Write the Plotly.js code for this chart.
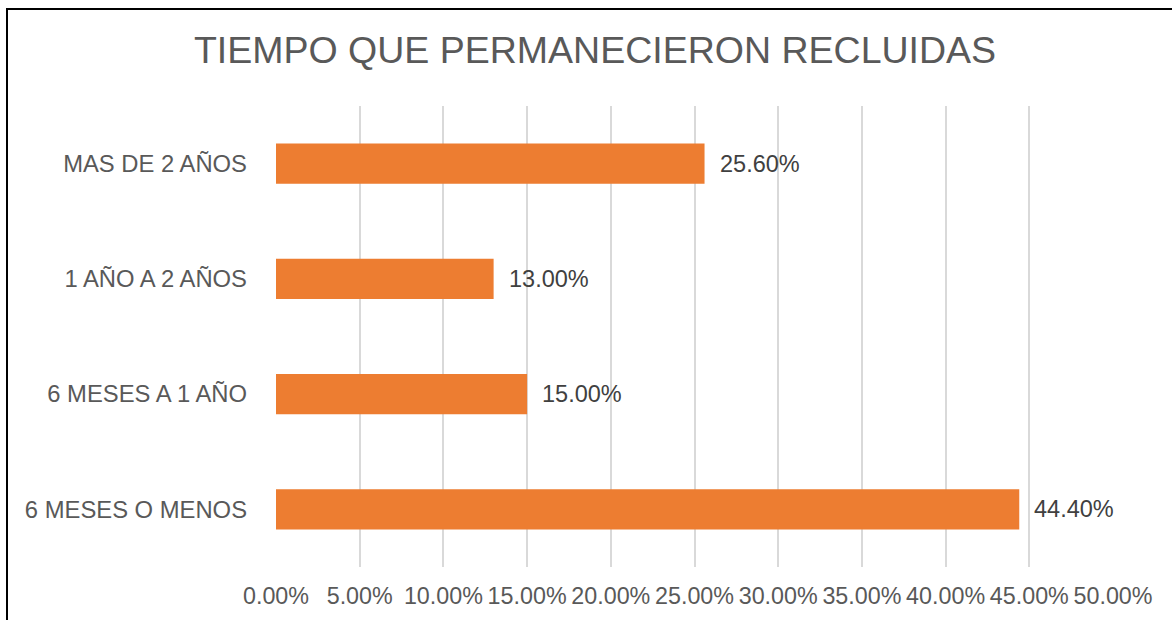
<!DOCTYPE html>
<html>
<head>
<meta charset="utf-8">
<script src="https://cdn.plot.ly/plotly-3.0.1.min.js"></script>
<style>
  html, body { margin: 0; padding: 0; background: #fff; overflow: hidden; }
  #chart { width: 1172px; height: 620px; position: absolute; left: 0; top: 0; }
  #frame { position: absolute; left: 6px; top: 8px; width: 1200px; height: 700px;
           border: 2px solid #000; box-sizing: border-box; pointer-events: none; }
</style>
</head>
<body>
<div id="chart"></div>
<div id="frame"></div>
<script>
const categories = ["6 MESES O MENOS", "6 MESES A 1 AÑO", "1 AÑO A 2 AÑOS", "MAS DE 2 AÑOS"];
const values = [0.444, 0.15, 0.13, 0.256];
const labels = ["44.40%", "15.00%", "13.00%", "25.60%"];
const titleText = "TIEMPO QUE PERMANECIERON RECLUIDAS";

const font = "Liberation Sans, Arial, sans-serif";

const trace = {
  type: "bar",
  orientation: "h",
  y: categories,
  x: values,
  marker: { color: "#ED7D31" },
  width: 0.35,
  hoverinfo: "none"
};

const annotations = values.map((v, i) => ({
  x: v, y: categories[i], xref: "x", yref: "y",
  text: labels[i], showarrow: false, xanchor: "left", xshift: 13,
  font: { family: font, size: 23.5, color: "#404040" }
}));

const layout = {
  width: 1172, height: 620,
  margin: { l: 276, r: 59, t: 106, b: 53, pad: 0 },
  paper_bgcolor: "#fff", plot_bgcolor: "#fff",
  title: { text: titleText, x: 0.5077, xref: "container", xanchor: "center",
           y: 0.919, yref: "container", yanchor: "middle",
           font: { family: font, size: 37.5, color: "#595959" } },
  xaxis: {
    range: [0, 0.5], dtick: 0.05, tick0: 0, tickformat: ".2%",
    showgrid: true, gridcolor: "#D9D9D9", gridwidth: 2,
    zeroline: false, showline: false, ticks: "",
    ticklabelstandoff: 13,
    tickfont: { family: font, size: 23.3, color: "#595959" }, fixedrange: true
  },
  yaxis: {
    type: "category", categoryorder: "array", categoryarray: categories,
    showgrid: false, zeroline: false, showline: false, ticks: "",
    ticklabelstandoff: 28,
    tickfont: { family: font, size: 23.8, color: "#595959" }, fixedrange: true
  },
  annotations: annotations,
  showlegend: false
};

Plotly.newPlot("chart", [trace], layout, { displayModeBar: false, staticPlot: true });
</script>
</body>
</html>
